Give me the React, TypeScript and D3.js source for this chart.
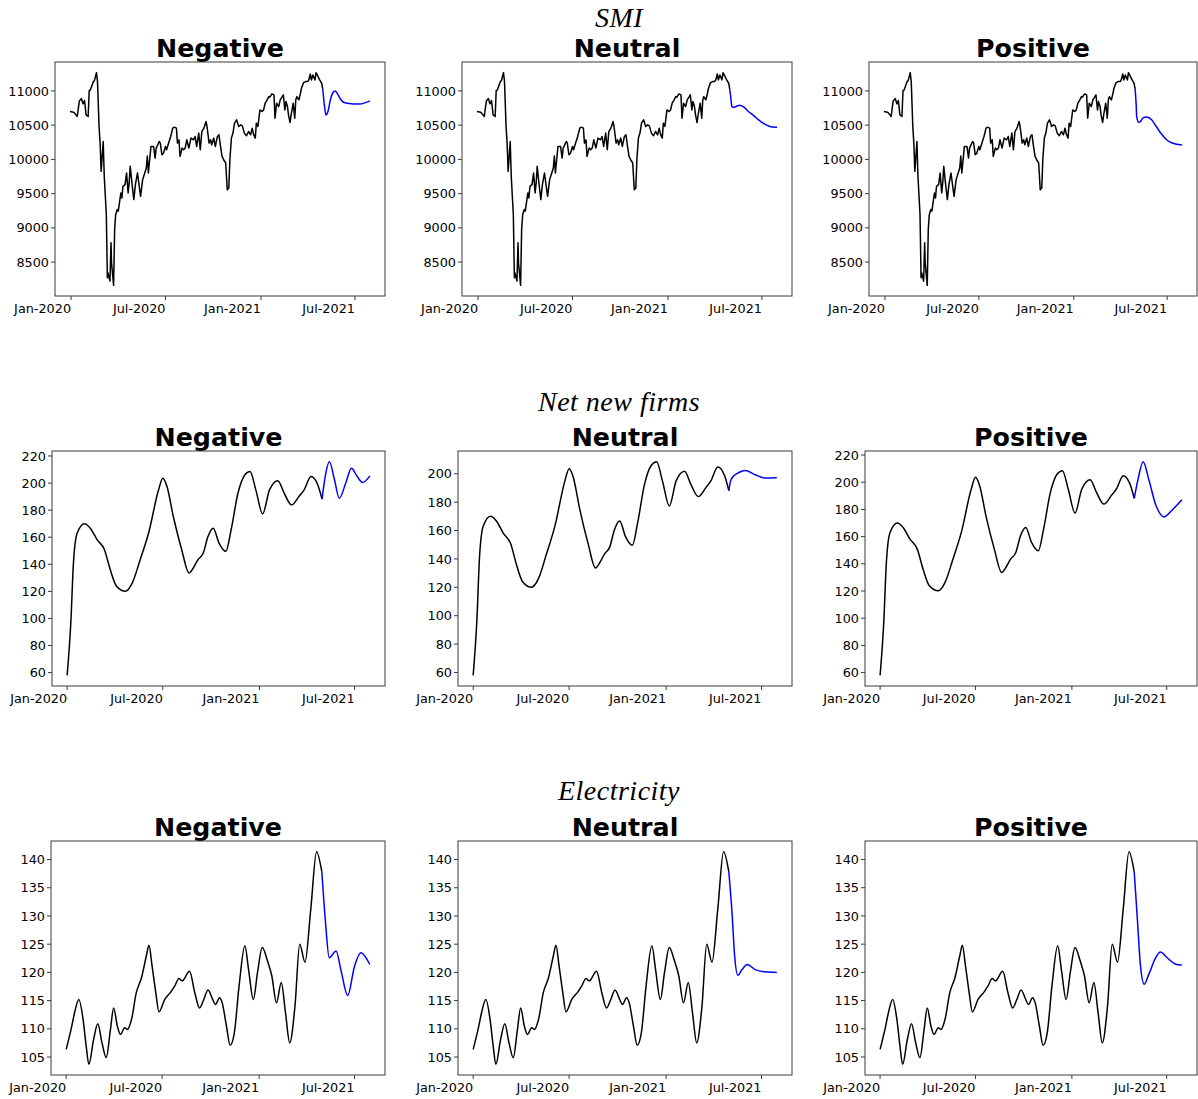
import React from 'react';
import * as d3 from 'd3';

type Pt = [string, number];

// ---------- data ----------
const columnTitles = ['Negative', 'Neutral', 'Positive'];
const rowTitles = ['SMI', 'Net new firms', 'Electricity'];

const xTickDates = ['2020-01-01', '2020-07-01', '2021-01-01', '2021-07-01'];
const xTickLabels = ['Jan-2020', 'Jul-2020', 'Jan-2021', 'Jul-2021'];

const smiTicks = [8500, 9000, 9500, 10000, 10500, 11000];
const firmsTicks = [60, 80, 100, 120, 140, 160, 180, 200, 220];
const elecTicks = [105, 110, 115, 120, 125, 130, 135, 140];

const smiHistory: Pt[] = [
  ['2019-12-30', 10700], ['2020-01-06', 10690], ['2020-01-09', 10665], ['2020-01-13', 10626],
  ['2020-01-17', 10854], ['2020-01-21', 10888], ['2020-01-24', 10811], ['2020-01-27', 10860],
  ['2020-01-30', 10650], ['2020-02-03', 10626], ['2020-02-05', 11005], ['2020-02-07', 11010],
  ['2020-02-13', 11136], ['2020-02-15', 11150], ['2020-02-19', 11267], ['2020-02-21', 11136],
  ['2020-02-24', 10480], ['2020-02-26', 10238], ['2020-02-28', 9825], ['2020-03-03', 10262],
  ['2020-03-05', 9752], ['2020-03-09', 9194], ['2020-03-11', 8272], ['2020-03-12', 8345],
  ['2020-03-16', 8223], ['2020-03-18', 8782], ['2020-03-19', 8491], ['2020-03-23', 8160],
  ['2020-03-25', 8976], ['2020-03-27', 9194], ['2020-03-30', 9267], ['2020-04-01', 9243],
  ['2020-04-06', 9510], ['2020-04-08', 9437], ['2020-04-10', 9607], ['2020-04-14', 9631],
  ['2020-04-17', 9801], ['2020-04-20', 9510], ['2020-04-22', 9656], ['2020-04-24', 9898],
  ['2020-04-28', 9607], ['2020-05-01', 9413], ['2020-05-04', 9631], ['2020-05-08', 9801],
  ['2020-05-14', 9461], ['2020-05-18', 9704], ['2020-05-21', 9777], ['2020-05-25', 9874],
  ['2020-05-27', 10050], ['2020-05-29', 9801], ['2020-06-03', 10189], ['2020-06-08', 10189],
  ['2020-06-11', 10019], ['2020-06-13', 10165], ['2020-06-19', 10262], ['2020-06-21', 10238],
  ['2020-06-24', 10068], ['2020-06-27', 10090], ['2020-07-01', 10189], ['2020-07-03', 10141],
  ['2020-07-07', 10238], ['2020-07-11', 10335], ['2020-07-15', 10456], ['2020-07-18', 10471],
  ['2020-07-22', 10456], ['2020-07-24', 10238], ['2020-07-27', 10286], ['2020-07-29', 10043],
  ['2020-08-02', 10165], ['2020-08-05', 10141], ['2020-08-08', 10165], ['2020-08-11', 10286],
  ['2020-08-15', 10165], ['2020-08-19', 10311], ['2020-08-24', 10286], ['2020-08-27', 10335],
  ['2020-08-30', 10189], ['2020-09-03', 10384], ['2020-09-06', 10141], ['2020-09-09', 10407],
  ['2020-09-13', 10456], ['2020-09-17', 10553], ['2020-09-19', 10480], ['2020-09-23', 10238],
  ['2020-09-26', 10286], ['2020-09-28', 10214], ['2020-10-02', 10311], ['2020-10-05', 10189],
  ['2020-10-09', 10335], ['2020-10-12', 10359], ['2020-10-15', 10189], ['2020-10-18', 10043],
  ['2020-10-21', 9995], ['2020-10-25', 9947], ['2020-10-28', 9558], ['2020-10-31', 9583],
  ['2020-11-02', 9995], ['2020-11-05', 10311], ['2020-11-08', 10384], ['2020-11-11', 10529],
  ['2020-11-15', 10578], ['2020-11-19', 10480], ['2020-11-23', 10505], ['2020-11-26', 10490],
  ['2020-11-30', 10384], ['2020-12-04', 10345], ['2020-12-08', 10407], ['2020-12-12', 10359],
  ['2020-12-15', 10456], ['2020-12-18', 10359], ['2020-12-21', 10311], ['2020-12-23', 10529],
  ['2020-12-26', 10480], ['2020-12-30', 10723], ['2021-01-03', 10699], ['2021-01-06', 10723],
  ['2021-01-09', 10820], ['2021-01-12', 10859], ['2021-01-16', 10917], ['2021-01-18', 10908],
  ['2021-01-22', 10956], ['2021-01-26', 10942], ['2021-01-28', 10602], ['2021-01-31', 10820],
  ['2021-02-04', 10771], ['2021-02-07', 10869], ['2021-02-11', 10917], ['2021-02-13', 10942],
  ['2021-02-16', 10723], ['2021-02-18', 10844], ['2021-02-21', 10771], ['2021-02-23', 10650],
  ['2021-02-26', 10539], ['2021-02-28', 10650], ['2021-03-04', 10820], ['2021-03-07', 10602],
  ['2021-03-09', 10869], ['2021-03-11', 10917], ['2021-03-15', 10869], ['2021-03-18', 10966],
  ['2021-03-20', 11039], ['2021-03-24', 11121], ['2021-03-28', 11136], ['2021-04-01', 11136],
  ['2021-04-03', 11160], ['2021-04-06', 11248], ['2021-04-08', 11160], ['2021-04-11', 11233],
  ['2021-04-15', 11160], ['2021-04-17', 11267], ['2021-04-21', 11208], ['2021-04-24', 11160],
  ['2021-04-28', 11112], ['2021-04-30', 11024],
];

const smiNegative: Pt[] = [
  ['2021-04-30', 11024], ['2021-05-03', 10800], ['2021-05-06', 10650], ['2021-05-10', 10700],
  ['2021-05-15', 10880], ['2021-05-20', 10980], ['2021-05-24', 11000], ['2021-05-29', 10950],
  ['2021-06-04', 10870], ['2021-06-10', 10830], ['2021-06-20', 10815], ['2021-07-01', 10810],
  ['2021-07-10', 10808], ['2021-07-20', 10825], ['2021-07-30', 10854],
];
const smiNeutral: Pt[] = [
  ['2021-04-30', 11024], ['2021-05-02', 10900], ['2021-05-04', 10771], ['2021-05-08', 10760],
  ['2021-05-14', 10780], ['2021-05-19', 10792], ['2021-05-26', 10770], ['2021-06-05', 10700],
  ['2021-06-15', 10640], ['2021-06-24', 10580], ['2021-07-03', 10530], ['2021-07-13', 10490],
  ['2021-07-21', 10472], ['2021-07-30', 10471],
];
const smiPositive: Pt[] = [
  ['2021-04-30', 11024], ['2021-05-02', 10800], ['2021-05-03', 10626], ['2021-05-07', 10540],
  ['2021-05-10', 10550], ['2021-05-16', 10610], ['2021-05-22', 10620], ['2021-06-01', 10580],
  ['2021-06-10', 10480], ['2021-06-20', 10370], ['2021-07-01', 10280], ['2021-07-12', 10235],
  ['2021-07-30', 10209],
];

const firmsHistory: Pt[] = [
  ['2020-01-01', 58], ['2020-01-08', 96.8], ['2020-01-13', 141], ['2020-01-20', 163],
  ['2020-02-03', 170], ['2020-02-14', 166.7], ['2020-02-27', 158.2], ['2020-03-12', 150.8],
  ['2020-03-23', 136.1], ['2020-04-04', 123.8], ['2020-04-21', 120.1], ['2020-05-04', 126.3],
  ['2020-05-19', 143.4], ['2020-06-04', 163.1], ['2020-06-23', 195], ['2020-07-01', 203.6],
  ['2020-07-09', 197.4], ['2020-07-21', 175.3], ['2020-08-06', 150.8], ['2020-08-20', 133.6],
  ['2020-08-28', 137.3], ['2020-09-06', 143.4], ['2020-09-16', 148.3], ['2020-09-25', 160.6],
  ['2020-10-05', 166.7], ['2020-10-16', 155.7], ['2020-10-29', 149.6], ['2020-11-08', 165.5],
  ['2020-11-21', 192.5], ['2020-12-04', 206], ['2020-12-14', 208.5], ['2020-12-25', 195],
  ['2021-01-07', 177.3], ['2021-01-20', 195], ['2021-02-05', 201.8], ['2021-02-17', 192.5],
  ['2021-03-03', 183.9], ['2021-03-18', 190.6], ['2021-03-27', 195], ['2021-04-09', 204.8],
  ['2021-04-22', 198.6], ['2021-04-30', 188.1],
];
const firmsNegative: Pt[] = [
  ['2021-04-30', 188.1], ['2021-05-06', 204.8], ['2021-05-14', 215.8], ['2021-05-23', 203.6],
  ['2021-06-02', 188.8], ['2021-06-14', 199.9], ['2021-06-25', 210.9], ['2021-07-06', 204.8],
  ['2021-07-16', 200.4], ['2021-07-30', 205.3],
];
const firmsNeutral: Pt[] = [
  ['2021-04-30', 188.1], ['2021-05-02', 193], ['2021-05-06', 197], ['2021-05-19', 200.9],
  ['2021-05-31', 202.3], ['2021-06-19', 199.3], ['2021-07-08', 197], ['2021-07-30', 197.2],
];
const firmsPositive: Pt[] = [
  ['2021-04-30', 188.1], ['2021-05-07', 201.7], ['2021-05-17', 215.1], ['2021-05-28', 201.7],
  ['2021-06-10', 183.5], ['2021-06-26', 174.5], ['2021-07-12', 179.8], ['2021-07-30', 187.1],
];

const elecHistory: Pt[] = [
  ['2020-01-01', 106.35], ['2020-01-11', 110.2], ['2020-01-17', 112.9], ['2020-01-25', 115.2],
  ['2020-02-02', 111.7], ['2020-02-08', 106.9], ['2020-02-13', 103.7], ['2020-02-22', 108.1],
  ['2020-03-01', 110.9], ['2020-03-09', 107.5], ['2020-03-17', 104.9], ['2020-03-25', 109.9],
  ['2020-03-31', 113.7], ['2020-04-07', 110.5], ['2020-04-13', 109], ['2020-04-21', 110.2],
  ['2020-04-26', 109.9], ['2020-05-04', 111.7], ['2020-05-13', 116.4], ['2020-05-23', 119.1],
  ['2020-06-01', 122.9], ['2020-06-06', 124.8], ['2020-06-12', 121.1], ['2020-06-19', 116.4],
  ['2020-06-25', 113], ['2020-07-06', 115.2], ['2020-07-18', 116.6], ['2020-07-25', 117.6],
  ['2020-08-02', 118.9], ['2020-08-08', 118.5], ['2020-08-22', 120.2], ['2020-09-01', 116.4],
  ['2020-09-10', 113.7], ['2020-09-18', 115.2], ['2020-09-26', 116.9], ['2020-10-05', 115.2],
  ['2020-10-10', 114.3], ['2020-10-18', 115.5], ['2020-10-23', 114.6], ['2020-10-31', 110.5],
  ['2020-11-07', 107.1], ['2020-11-15', 109.3], ['2020-11-24', 117.6], ['2020-12-05', 124.7],
  ['2020-12-12', 120.5], ['2020-12-21', 115.2], ['2020-12-29', 120], ['2021-01-07', 124.4],
  ['2021-01-17', 122], ['2021-01-25', 119.4], ['2021-02-03', 114.6], ['2021-02-12', 118.2],
  ['2021-02-20', 112.9], ['2021-02-28', 107.5], ['2021-03-10', 114], ['2021-03-19', 125],
  ['2021-03-29', 121.8], ['2021-04-09', 131.2], ['2021-04-20', 141.4], ['2021-04-30', 137.8],
];
const elecNegative: Pt[] = [
  ['2021-04-30', 137.8], ['2021-05-07', 128.8], ['2021-05-14', 122.6], ['2021-05-27', 123.8],
  ['2021-06-05', 120.5], ['2021-06-18', 115.9], ['2021-07-01', 121.1], ['2021-07-13', 123.5],
  ['2021-07-30', 121.4],
];
const elecNeutral: Pt[] = [
  ['2021-04-30', 137.8], ['2021-05-06', 130.6], ['2021-05-11', 122.9], ['2021-05-17', 119.5],
  ['2021-05-25', 120.5], ['2021-06-04', 121.4], ['2021-06-19', 120.5], ['2021-07-08', 120.1],
  ['2021-07-30', 120],
];
const elecPositive: Pt[] = [
  ['2021-04-30', 137.8], ['2021-05-06', 129.4], ['2021-05-12', 121.1], ['2021-05-19', 117.9],
  ['2021-05-28', 119.7], ['2021-06-10', 122.6], ['2021-06-19', 123.6], ['2021-07-02', 122.6],
  ['2021-07-17', 121.5], ['2021-07-30', 121.3],
];

// ---------- layout ----------
const WIDTH = 1198;
const HEIGHT = 1099;
const COL_RIGHTS = [385, 792, 1197];
const ROW_LAYOUT = [
  { top: 62, bottom: 296, lefts: [55, 462, 869], titleY: 27 },
  { top: 451, bottom: 686, lefts: [52, 458, 865], titleY: 411 },
  { top: 841, bottom: 1075, lefts: [51, 458, 865], titleY: 800 },
];
const SUPTITLE_X = 619;

const parse = d3.utcParse('%Y-%m-%d');

interface RowSpec {
  history: Pt[];
  forecasts: Pt[][];
  ticks: number[];
  jagged: boolean;
}

const rows: RowSpec[] = [
  { history: smiHistory, forecasts: [smiNegative, smiNeutral, smiPositive], ticks: smiTicks, jagged: true },
  { history: firmsHistory, forecasts: [firmsNegative, firmsNeutral, firmsPositive], ticks: firmsTicks, jagged: false },
  { history: elecHistory, forecasts: [elecNegative, elecNeutral, elecPositive], ticks: elecTicks, jagged: false },
];

const TICK_FONT = 'DejaVu Sans, sans-serif';

function Panel(props: {
  title: string;
  history: Pt[];
  forecast: Pt[];
  ticks: number[];
  jagged: boolean;
  left: number;
  right: number;
  top: number;
  bottom: number;
}) {
  const { title, history, forecast, ticks, jagged, left, right, top, bottom } = props;
  const all = history.concat(forecast);
  const [t0, t1] = d3.extent(all, (d) => parse(d[0])!.getTime()) as [number, number];
  const tPad = (t1 - t0) * 0.05;
  const [v0, v1] = d3.extent(all, (d) => d[1]) as [number, number];
  const vPad = (v1 - v0) * 0.05;

  const x = d3.scaleUtc().domain([new Date(t0 - tPad), new Date(t1 + tPad)]).range([left, right]);
  const y = d3.scaleLinear().domain([v0 - vPad, v1 + vPad]).range([bottom, top]);

  const histLine = d3
    .line<Pt>()
    .x((d) => x(parse(d[0])!))
    .y((d) => y(d[1]))
    .curve(jagged ? d3.curveLinear : d3.curveMonotoneX);
  const fcLine = d3
    .line<Pt>()
    .x((d) => x(parse(d[0])!))
    .y((d) => y(d[1]))
    .curve(d3.curveMonotoneX);

  const [d0, d1] = y.domain();
  const yTicks = ticks.filter((t) => t >= d0 && t <= d1);

  return (
    <g>
      <text
        x={(left + right) / 2}
        y={top - 5}
        textAnchor="middle"
        fontFamily={TICK_FONT}
        fontWeight="bold"
        fontSize={25.3}
        fill="#000"
      >
        {title}
      </text>
      <path d={histLine(history) || ''} fill="none" stroke="#000" strokeWidth={1.5} strokeLinejoin="round" />
      <path d={fcLine(forecast) || ''} fill="none" stroke="#0000ff" strokeWidth={1.5} strokeLinejoin="round" />
      <rect x={left} y={top} width={right - left} height={bottom - top} fill="none" stroke="#3a3a3a" strokeWidth={1} />
      {yTicks.map((t) => (
        <g key={'y' + t}>
          <line x1={left - 4} x2={left} y1={y(t)} y2={y(t)} stroke="#3a3a3a" strokeWidth={1} />
          <text
            x={left - 6}
            y={y(t)}
            dy="0.36em"
            textAnchor="end"
            fontFamily={TICK_FONT}
            fontSize={12.8}
            fill="#000"
          >
            {t}
          </text>
        </g>
      ))}
      {xTickDates.map((ds, i) => {
        const px = x(parse(ds)!);
        return (
          <g key={'x' + ds}>
            <line x1={px} x2={px} y1={bottom} y2={bottom + 4} stroke="#3a3a3a" strokeWidth={1} />
            <text x={px} y={bottom + 17} textAnchor="end" fontFamily={TICK_FONT} fontSize={12.8} fill="#000">
              {xTickLabels[i]}
            </text>
          </g>
        );
      })}
    </g>
  );
}

export default function App() {
  return (
    <svg
      width={WIDTH}
      height={HEIGHT}
      viewBox={`0 0 ${WIDTH} ${HEIGHT}`}
      style={{ position: 'absolute', left: 0, top: 0, background: '#fff' }}
    >
      <rect x={0} y={0} width={WIDTH} height={HEIGHT} fill="#fff" />
      {rows.map((row, r) => {
        const lay = ROW_LAYOUT[r];
        return (
          <g key={'row' + r}>
            <text
              x={SUPTITLE_X}
              y={lay.titleY}
              textAnchor="middle"
              fontFamily="'Liberation Serif', serif"
              fontStyle="italic"
              fontSize={28}
              letterSpacing={0.5}
              fill="#000"
            >
              {rowTitles[r]}
            </text>
            {columnTitles.map((ct, c) => (
              <Panel
                key={ct}
                title={ct}
                history={row.history}
                forecast={row.forecasts[c]}
                ticks={row.ticks}
                jagged={row.jagged}
                left={lay.lefts[c]}
                right={COL_RIGHTS[c]}
                top={lay.top}
                bottom={lay.bottom}
              />
            ))}
          </g>
        );
      })}
    </svg>
  );
}
